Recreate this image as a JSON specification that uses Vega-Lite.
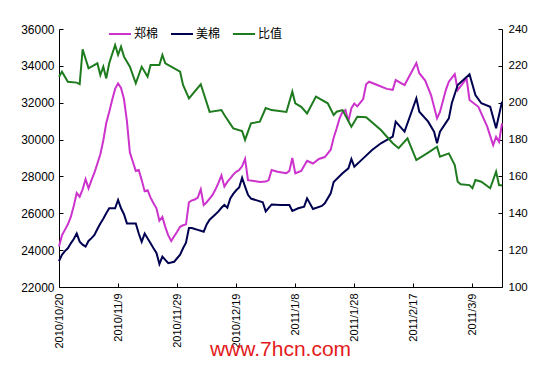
{
"$schema": "https://vega.github.io/schema/vega-lite/v6.json",
"width": 443, "height": 258,
"autosize": "none",
"padding": {"left": 59, "top": 29, "right": 58, "bottom": 90},
"background": "white",
"config": {"view": {"stroke": null}, "axis": {"grid": false, "domainColor": "black", "tickColor": "black", "labelColor": "black", "labelFont": "Liberation Sans", "domainWidth": 1, "tickWidth": 1}},
"datasets": {"cot": [
{"d":"2010-10-20","s":"郑棉","v":24200},{"d":"2010-10-21","s":"郑棉","v":24800},{"d":"2010-10-22","s":"郑棉","v":25100},{"d":"2010-10-23","s":"郑棉","v":25400},{"d":"2010-10-24","s":"郑棉","v":25800},{"d":"2010-10-25","s":"郑棉","v":26400},{"d":"2010-10-26","s":"郑棉","v":27100},{"d":"2010-10-27","s":"郑棉","v":26900},{"d":"2010-10-28","s":"郑棉","v":27300},{"d":"2010-10-29","s":"郑棉","v":27850},{"d":"2010-10-30","s":"郑棉","v":27350},{"d":"2010-10-31","s":"郑棉","v":27800},
{"d":"2010-11-01","s":"郑棉","v":28200},{"d":"2010-11-02","s":"郑棉","v":28700},{"d":"2010-11-03","s":"郑棉","v":29200},{"d":"2010-11-04","s":"郑棉","v":29950},{"d":"2010-11-05","s":"郑棉","v":30900},{"d":"2010-11-06","s":"郑棉","v":31500},{"d":"2010-11-07","s":"郑棉","v":32150},{"d":"2010-11-08","s":"郑棉","v":32750},{"d":"2010-11-09","s":"郑棉","v":33050},{"d":"2010-11-10","s":"郑棉","v":32800},{"d":"2010-11-11","s":"郑棉","v":32200},{"d":"2010-11-12","s":"郑棉","v":31000},{"d":"2010-11-13","s":"郑棉","v":29300},{"d":"2010-11-14","s":"郑棉","v":28800},{"d":"2010-11-15","s":"郑棉","v":28300},{"d":"2010-11-16","s":"郑棉","v":28350},{"d":"2010-11-17","s":"郑棉","v":27800},{"d":"2010-11-18","s":"郑棉","v":27200},{"d":"2010-11-19","s":"郑棉","v":27250},{"d":"2010-11-20","s":"郑棉","v":26850},{"d":"2010-11-21","s":"郑棉","v":26550},{"d":"2010-11-22","s":"郑棉","v":26270},{"d":"2010-11-23","s":"郑棉","v":25600},{"d":"2010-11-24","s":"郑棉","v":25800},{"d":"2010-11-25","s":"郑棉","v":25250},{"d":"2010-11-26","s":"郑棉","v":24800},{"d":"2010-11-27","s":"郑棉","v":24500},{"d":"2010-11-28","s":"郑棉","v":24750},{"d":"2010-11-29","s":"郑棉","v":25000},{"d":"2010-11-30","s":"郑棉","v":25270},
{"d":"2010-12-01","s":"郑棉","v":25350},{"d":"2010-12-02","s":"郑棉","v":25400},{"d":"2010-12-03","s":"郑棉","v":26600},{"d":"2010-12-04","s":"郑棉","v":26700},{"d":"2010-12-05","s":"郑棉","v":26750},{"d":"2010-12-06","s":"郑棉","v":26850},{"d":"2010-12-07","s":"郑棉","v":27300},{"d":"2010-12-08","s":"郑棉","v":26450},{"d":"2010-12-09","s":"郑棉","v":26600},{"d":"2010-12-10","s":"郑棉","v":26800},{"d":"2010-12-11","s":"郑棉","v":27000},{"d":"2010-12-12","s":"郑棉","v":27300},{"d":"2010-12-13","s":"郑棉","v":27650},{"d":"2010-12-14","s":"郑棉","v":28050},{"d":"2010-12-15","s":"郑棉","v":27450},{"d":"2010-12-16","s":"郑棉","v":27700},{"d":"2010-12-17","s":"郑棉","v":27900},{"d":"2010-12-18","s":"郑棉","v":28100},{"d":"2010-12-19","s":"郑棉","v":28250},{"d":"2010-12-20","s":"郑棉","v":28350},{"d":"2010-12-21","s":"郑棉","v":28550},{"d":"2010-12-22","s":"郑棉","v":28950},{"d":"2010-12-23","s":"郑棉","v":27800},{"d":"2010-12-25","s":"郑棉","v":27750},{"d":"2010-12-27","s":"郑棉","v":27700},{"d":"2010-12-29","s":"郑棉","v":27720},{"d":"2010-12-30","s":"郑棉","v":27800},{"d":"2010-12-31","s":"郑棉","v":28350},
{"d":"2011-01-02","s":"郑棉","v":28250},{"d":"2011-01-04","s":"郑棉","v":28200},{"d":"2011-01-05","s":"郑棉","v":28170},{"d":"2011-01-06","s":"郑棉","v":28300},{"d":"2011-01-07","s":"郑棉","v":29000},{"d":"2011-01-08","s":"郑棉","v":28170},{"d":"2011-01-10","s":"郑棉","v":28300},{"d":"2011-01-12","s":"郑棉","v":28850},{"d":"2011-01-14","s":"郑棉","v":28700},{"d":"2011-01-16","s":"郑棉","v":28950},{"d":"2011-01-18","s":"郑棉","v":29050},{"d":"2011-01-20","s":"郑棉","v":29450},{"d":"2011-01-21","s":"郑棉","v":30100},{"d":"2011-01-22","s":"郑棉","v":30600},{"d":"2011-01-23","s":"郑棉","v":31150},{"d":"2011-01-24","s":"郑棉","v":31500},{"d":"2011-01-25","s":"郑棉","v":31600},{"d":"2011-01-26","s":"郑棉","v":31000},{"d":"2011-01-27","s":"郑棉","v":31700},{"d":"2011-01-28","s":"郑棉","v":31950},{"d":"2011-01-29","s":"郑棉","v":31800},{"d":"2011-01-31","s":"郑棉","v":32200},
{"d":"2011-02-01","s":"郑棉","v":33000},{"d":"2011-02-02","s":"郑棉","v":33140},{"d":"2011-02-05","s":"郑棉","v":32950},{"d":"2011-02-08","s":"郑棉","v":32750},{"d":"2011-02-10","s":"郑棉","v":32700},{"d":"2011-02-11","s":"郑棉","v":33230},{"d":"2011-02-14","s":"郑棉","v":32960},{"d":"2011-02-18","s":"郑棉","v":34150},{"d":"2011-02-19","s":"郑棉","v":33600},{"d":"2011-02-21","s":"郑棉","v":33200},{"d":"2011-02-23","s":"郑棉","v":32400},{"d":"2011-02-25","s":"郑棉","v":31150},{"d":"2011-02-26","s":"郑棉","v":31500},{"d":"2011-02-28","s":"郑棉","v":32700},
{"d":"2011-03-01","s":"郑棉","v":33140},{"d":"2011-03-03","s":"郑棉","v":33550},{"d":"2011-03-04","s":"郑棉","v":32690},{"d":"2011-03-07","s":"郑棉","v":33320},{"d":"2011-03-08","s":"郑棉","v":32150},{"d":"2011-03-11","s":"郑棉","v":31780},{"d":"2011-03-14","s":"郑棉","v":30700},{"d":"2011-03-16","s":"郑棉","v":29700},{"d":"2011-03-17","s":"郑棉","v":30150},{"d":"2011-03-18","s":"郑棉","v":29880},{"d":"2011-03-19","s":"郑棉","v":30880},
{"d":"2010-10-20","s":"美棉","v":23400},{"d":"2010-10-21","s":"美棉","v":23750},{"d":"2010-10-22","s":"美棉","v":23950},{"d":"2010-10-23","s":"美棉","v":24100},{"d":"2010-10-24","s":"美棉","v":24370},{"d":"2010-10-25","s":"美棉","v":24600},{"d":"2010-10-26","s":"美棉","v":24900},{"d":"2010-10-27","s":"美棉","v":24460},{"d":"2010-10-28","s":"美棉","v":24300},{"d":"2010-10-29","s":"美棉","v":24190},{"d":"2010-10-30","s":"美棉","v":24500},{"d":"2010-10-31","s":"美棉","v":24650},
{"d":"2010-11-01","s":"美棉","v":24820},{"d":"2010-11-02","s":"美棉","v":25150},{"d":"2010-11-03","s":"美棉","v":25450},{"d":"2010-11-04","s":"美棉","v":25700},{"d":"2010-11-05","s":"美棉","v":26000},{"d":"2010-11-06","s":"美棉","v":26270},{"d":"2010-11-07","s":"美棉","v":26270},{"d":"2010-11-08","s":"美棉","v":26270},{"d":"2010-11-09","s":"美棉","v":26720},{"d":"2010-11-10","s":"美棉","v":26270},{"d":"2010-11-11","s":"美棉","v":25950},{"d":"2010-11-12","s":"美棉","v":25450},{"d":"2010-11-13","s":"美棉","v":25450},{"d":"2010-11-15","s":"美棉","v":25450},{"d":"2010-11-16","s":"美棉","v":24900},{"d":"2010-11-17","s":"美棉","v":24450},{"d":"2010-11-18","s":"美棉","v":24900},{"d":"2010-11-20","s":"美棉","v":24370},{"d":"2010-11-21","s":"美棉","v":24100},{"d":"2010-11-22","s":"美棉","v":23850},{"d":"2010-11-23","s":"美棉","v":23250},{"d":"2010-11-24","s":"美棉","v":23650},{"d":"2010-11-26","s":"美棉","v":23290},{"d":"2010-11-28","s":"美棉","v":23370},{"d":"2010-11-30","s":"美棉","v":23750},
{"d":"2010-12-01","s":"美棉","v":24100},{"d":"2010-12-02","s":"美棉","v":24400},{"d":"2010-12-03","s":"美棉","v":25200},{"d":"2010-12-04","s":"美棉","v":25200},{"d":"2010-12-05","s":"美棉","v":25150},{"d":"2010-12-06","s":"美棉","v":25100},{"d":"2010-12-07","s":"美棉","v":25050},{"d":"2010-12-08","s":"美棉","v":25000},{"d":"2010-12-09","s":"美棉","v":25400},{"d":"2010-12-10","s":"美棉","v":25650},{"d":"2010-12-11","s":"美棉","v":25800},{"d":"2010-12-12","s":"美棉","v":25950},{"d":"2010-12-13","s":"美棉","v":26100},{"d":"2010-12-14","s":"美棉","v":26300},{"d":"2010-12-15","s":"美棉","v":26450},{"d":"2010-12-16","s":"美棉","v":26300},{"d":"2010-12-17","s":"美棉","v":26800},{"d":"2010-12-18","s":"美棉","v":27050},{"d":"2010-12-19","s":"美棉","v":27250},{"d":"2010-12-20","s":"美棉","v":27400},{"d":"2010-12-21","s":"美棉","v":27930},{"d":"2010-12-22","s":"美棉","v":27450},{"d":"2010-12-23","s":"美棉","v":27000},{"d":"2010-12-24","s":"美棉","v":26800},{"d":"2010-12-26","s":"美棉","v":26700},{"d":"2010-12-28","s":"美棉","v":26600},{"d":"2010-12-29","s":"美棉","v":26100},{"d":"2010-12-31","s":"美棉","v":26480},
{"d":"2011-01-03","s":"美棉","v":26450},{"d":"2011-01-06","s":"美棉","v":26450},{"d":"2011-01-07","s":"美棉","v":26130},{"d":"2011-01-09","s":"美棉","v":26270},{"d":"2011-01-11","s":"美棉","v":26360},{"d":"2011-01-12","s":"美棉","v":26810},{"d":"2011-01-14","s":"美棉","v":26230},{"d":"2011-01-17","s":"美棉","v":26400},{"d":"2011-01-18","s":"美棉","v":26540},{"d":"2011-01-20","s":"美棉","v":27080},{"d":"2011-01-21","s":"美棉","v":27700},{"d":"2011-01-24","s":"美棉","v":28170},{"d":"2011-01-26","s":"美棉","v":28440},{"d":"2011-01-27","s":"美棉","v":28945},{"d":"2011-01-28","s":"美棉","v":28530},{"d":"2011-01-31","s":"美棉","v":28980},
{"d":"2011-02-03","s":"美棉","v":29430},{"d":"2011-02-06","s":"美棉","v":29800},{"d":"2011-02-10","s":"美棉","v":30160},{"d":"2011-02-11","s":"美棉","v":30970},{"d":"2011-02-14","s":"美棉","v":30430},{"d":"2011-02-18","s":"美棉","v":32240},{"d":"2011-02-19","s":"美棉","v":31510},{"d":"2011-02-22","s":"美棉","v":30970},{"d":"2011-02-24","s":"美棉","v":30430},{"d":"2011-02-25","s":"美棉","v":29800},{"d":"2011-02-26","s":"美棉","v":30430},
{"d":"2011-03-01","s":"美棉","v":31150},{"d":"2011-03-02","s":"美棉","v":31970},{"d":"2011-03-04","s":"美棉","v":32960},{"d":"2011-03-08","s":"美棉","v":33540},{"d":"2011-03-10","s":"美棉","v":32420},{"d":"2011-03-12","s":"美棉","v":31970},{"d":"2011-03-15","s":"美棉","v":31780},{"d":"2011-03-17","s":"美棉","v":30610},{"d":"2011-03-19","s":"美棉","v":32050},
{"d":"2010-10-20","s":"比值","v":214.1},{"d":"2010-10-21","s":"比值","v":216.8},{"d":"2010-10-23","s":"比值","v":211.4},{"d":"2010-10-26","s":"比值","v":210.9},{"d":"2010-10-27","s":"比值","v":210.1},{"d":"2010-10-28","s":"比值","v":229},{"d":"2010-10-30","s":"比值","v":218.7},
{"d":"2010-11-02","s":"比值","v":221.4},{"d":"2010-11-03","s":"比值","v":215},{"d":"2010-11-04","s":"比值","v":219.5},{"d":"2010-11-05","s":"比值","v":213.2},{"d":"2010-11-06","s":"比值","v":221.4},{"d":"2010-11-08","s":"比值","v":231.3},{"d":"2010-11-09","s":"比值","v":226},{"d":"2010-11-10","s":"比值","v":230.4},{"d":"2010-11-11","s":"比值","v":225},{"d":"2010-11-13","s":"比值","v":219.5},{"d":"2010-11-15","s":"比值","v":210.5},{"d":"2010-11-17","s":"比值","v":219.5},{"d":"2010-11-19","s":"比值","v":214.1},{"d":"2010-11-20","s":"比值","v":220.5},{"d":"2010-11-23","s":"比值","v":220.5},{"d":"2010-11-24","s":"比值","v":225.9},{"d":"2010-11-25","s":"比值","v":221.4},{"d":"2010-11-30","s":"比值","v":216.8},
{"d":"2010-12-01","s":"比值","v":209.6},{"d":"2010-12-03","s":"比值","v":202.4},{"d":"2010-12-07","s":"比值","v":210},{"d":"2010-12-10","s":"比值","v":195},{"d":"2010-12-14","s":"比值","v":196},{"d":"2010-12-15","s":"比值","v":193.3},{"d":"2010-12-18","s":"比值","v":186.1},{"d":"2010-12-21","s":"比值","v":184.6},{"d":"2010-12-22","s":"比值","v":179.8},{"d":"2010-12-24","s":"比值","v":188.8},{"d":"2010-12-27","s":"比值","v":189.7},{"d":"2010-12-29","s":"比值","v":197.1},{"d":"2010-12-31","s":"比值","v":196},
{"d":"2011-01-05","s":"比值","v":195},{"d":"2011-01-07","s":"比值","v":206},{"d":"2011-01-08","s":"比值","v":199.7},{"d":"2011-01-10","s":"比值","v":197.8},{"d":"2011-01-12","s":"比值","v":194.2},{"d":"2011-01-15","s":"比值","v":203.3},{"d":"2011-01-19","s":"比值","v":199.7},{"d":"2011-01-21","s":"比值","v":193.3},{"d":"2011-01-22","s":"比值","v":195.1},{"d":"2011-01-24","s":"比值","v":196},{"d":"2011-01-27","s":"比值","v":187},{"d":"2011-01-29","s":"比值","v":192.4},
{"d":"2011-02-01","s":"比值","v":192.1},{"d":"2011-02-06","s":"比值","v":185.2},{"d":"2011-02-10","s":"比值","v":178},{"d":"2011-02-12","s":"比值","v":175.3},{"d":"2011-02-15","s":"比值","v":180.7},{"d":"2011-02-18","s":"比值","v":168.9},{"d":"2011-02-22","s":"比值","v":172.9},{"d":"2011-02-25","s":"比值","v":176.1},{"d":"2011-02-26","s":"比值","v":170.7},
{"d":"2011-03-01","s":"比值","v":172.5},{"d":"2011-03-03","s":"比值","v":166.2},{"d":"2011-03-04","s":"比值","v":157.1},{"d":"2011-03-05","s":"比值","v":155.7},{"d":"2011-03-08","s":"比值","v":155.3},{"d":"2011-03-09","s":"比值","v":153.6},{"d":"2011-03-10","s":"比值","v":158.1},{"d":"2011-03-12","s":"比值","v":157.1},{"d":"2011-03-15","s":"比值","v":153.6},{"d":"2011-03-17","s":"比值","v":162.6},{"d":"2011-03-18","s":"比值","v":155.3},{"d":"2011-03-19","s":"比值","v":155.1}
]},
"data": {"name": "cot"},
"encoding": {
  "x": {"field": "d", "type": "temporal",
    "scale": {"type": "utc", "domain": [{"year": 2010, "month": 10, "date": 20, "utc": true}, {"year": 2011, "month": 3, "date": 19, "utc": true}]},
    "axis": {
      "values": [{"year": 2010, "month": 10, "date": 20, "utc": true}, {"year": 2010, "month": 11, "date": 9, "utc": true}, {"year": 2010, "month": 11, "date": 29, "utc": true}, {"year": 2010, "month": 12, "date": 19, "utc": true}, {"year": 2011, "month": 1, "date": 8, "utc": true}, {"year": 2011, "month": 1, "date": 28, "utc": true}, {"year": 2011, "month": 2, "date": 17, "utc": true}, {"year": 2011, "month": 3, "date": 9, "utc": true}],
      "labelExpr": "utcFormat(datum.value, '%Y/%-m/%-d')",
      "labelAngle": 270, "labelFontSize": 11, "tickSize": -4, "labelPadding": 10, "labelFlush": false, "labelOverlap": false,
      "title": "www.7hcn.com", "titleColor": "#e31a1c", "titleFont": "Liberation Sans", "titleFontSize": 21, "titleFontWeight": "normal", "titleBaseline": "alphabetic", "titleY": 68, "titleX": 221
    }
  }
},
"layer": [
  {"transform": [{"filter": "datum.s !== '比值'"}],
   "mark": {"type": "line", "strokeWidth": 2},
   "encoding": {
     "y": {"field": "v", "type": "quantitative", "scale": {"domain": [22000, 36000], "nice": false, "zero": false},
       "axis": {"values": [22000, 24000, 26000, 28000, 30000, 32000, 34000, 36000], "format": "d", "labelFontSize": 12, "tickSize": -4, "labelPadding": 9, "title": null}},
     "color": {"field": "s", "type": "nominal", "scale": {"domain": ["郑棉", "美棉", "比值"], "range": ["#cc33cc", "#000050", "#1e7b1e"]},
       "legend": {"orient": "none", "legendX": 49, "legendY": -7, "direction": "horizontal", "symbolType": "stroke", "symbolSize": 484, "symbolStrokeWidth": 2, "labelFont": "Noto Sans CJK SC", "labelFontSize": 12, "labelColor": "black", "title": null, "columnPadding": 8, "labelOffset": 2}}
   }},
  {"transform": [{"filter": "datum.s === '比值'"}],
   "mark": {"type": "line", "strokeWidth": 2},
   "encoding": {
     "y": {"field": "v", "type": "quantitative", "scale": {"domain": [100, 240], "nice": false, "zero": false},
       "axis": {"orient": "right", "values": [100, 120, 140, 160, 180, 200, 220, 240], "format": "d", "labelFontSize": 11.5, "tickSize": -4, "labelPadding": 10, "title": null}},
     "color": {"field": "s", "type": "nominal", "scale": {"domain": ["郑棉", "美棉", "比值"], "range": ["#cc33cc", "#000050", "#1e7b1e"]},
       "legend": {"orient": "none", "legendX": 49, "legendY": -7, "direction": "horizontal", "symbolType": "stroke", "symbolSize": 484, "symbolStrokeWidth": 2, "labelFont": "Noto Sans CJK SC", "labelFontSize": 12, "labelColor": "black", "title": null, "columnPadding": 8, "labelOffset": 2}}
   }}
],
"resolve": {"scale": {"y": "independent"}}
}
